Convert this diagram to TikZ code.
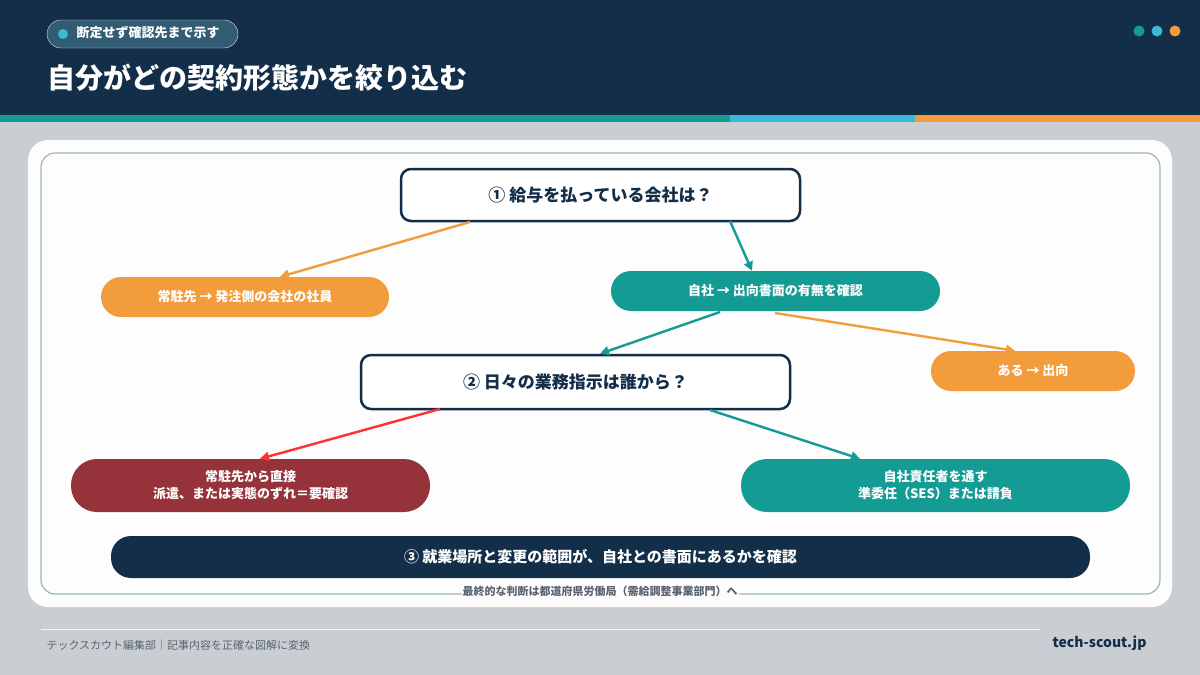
\documentclass[tikz,border=0pt]{standalone}
\usepackage{fontspec}
\setmainfont{Noto Sans CJK JP}
\usetikzlibrary{arrows.meta}
\definecolor{navy}{HTML}{132E48}
\definecolor{teal}{HTML}{139B94}
\definecolor{org}{HTML}{F39C3C}
\definecolor{red2}{HTML}{963239}
\definecolor{cyan2}{HTML}{3BB8D3}
\definecolor{bg}{HTML}{C9CED3}
\definecolor{gtxt}{HTML}{5A6470}
\tikzset{
 pill/.style={rounded corners=20pt,text=white,font=\bfseries\fontsize{13}{17}\selectfont,align=center,inner sep=0pt},
 qbox/.style={draw=navy,line width=2.5pt,fill=white,rounded corners=10pt,font=\bfseries\fontsize{17}{20}\selectfont,text=navy,inner sep=0pt},
 conn/.style={line width=2.4pt,-{Triangle[length=9pt,width=9pt]}},
}
\begin{document}
\begin{tikzpicture}[x=1pt,y=-1pt]
\useasboundingbox (0,0) rectangle (1200,675);
\fill[bg] (0,0) rectangle (1200,675);
\fill[navy] (0,0) rectangle (1200,115);
\fill[teal] (0,115) rectangle (730,122);
\fill[cyan2] (730,115) rectangle (915,122);
\fill[org] (915,115) rectangle (1200,122);
\node[draw=white!80!gray,fill=navy!80!cyan2!90!white,rounded corners=14pt,minimum width=191pt,minimum height=28pt] (badge) at (142.5,34) {};
\fill[cyan2] (63,34) circle (5);
\node[anchor=west,text=white,font=\bfseries\fontsize{13}{15}\selectfont] (badget) at (73,33) {断定せず確認先まで示す};
\node[anchor=west,text=white,font=\bfseries\fontsize{28}{32}\selectfont] (title) at (44,78) {自分がどの契約形態かを絞り込む};
\fill[teal] (1139,31) circle (5.5);
\fill[cyan2] (1157,31) circle (5.5);
\fill[org] (1175,31) circle (5.5);
% card
\fill[white!96!bg] (28,140) [rounded corners=20pt] rectangle (1172,607);
\draw[color=teal!40!gray!60,line width=1.2pt,rounded corners=14pt] (41,153) rectangle (1160,594);
% nodes
\node[qbox,minimum width=399pt,minimum height=52pt] (q1) at (600.5,195) {① 給与を払っている会社は？};
\node[pill,fill=org,minimum width=288pt,minimum height=40pt] (o1) at (245,297) {常駐先 → 発注側の会社の社員};
\node[pill,fill=teal,minimum width=329pt,minimum height=40pt] (t1) at (775.5,291) {自社 → 出向書面の有無を確認};
\node[qbox,minimum width=429pt,minimum height=54pt] (q2) at (575.5,382) {② 日々の業務指示は誰から？};
\node[pill,fill=org,minimum width=204pt,minimum height=40pt] (o2) at (1033,371) {ある → 出向};
\node[pill,fill=red2,minimum width=359pt,minimum height=53pt,rounded corners=26pt] (r1) at (250.5,485.5) {常駐先から直接\\派遣、または実態のずれ＝要確認};
\node[pill,fill=teal,minimum width=389pt,minimum height=53pt,rounded corners=26pt] (t2) at (935.5,485.5) {自社責任者を通す\\準委任（SES）または請負};
\node[pill,fill=navy,minimum width=979pt,minimum height=42pt,font=\bfseries\fontsize{15}{18}\selectfont] (bar) at (600.5,557) {③ 就業場所と変更の範囲が、自社との書面にあるかを確認};
\node[text=gtxt,font=\bfseries\fontsize{11}{13}\selectfont,fill=white!96!bg,inner sep=1pt] (note) at (600,591) {最終的な判断は都道府県労働局（需給調整事業部門）へ};
% connectors
\coordinate (a1) at (470,222); \coordinate (a2) at (730,221);
\coordinate (b1) at (720,312); \coordinate (b2) at (775,313);
\coordinate (c1) at (440,409); \coordinate (c2) at (710,410);
\draw[conn,org] (a1) -- (o1.north -| 280,0) ;
\draw[conn,teal] (a2) -- (t1.north -| 752,0);
\draw[conn,teal] (b1) -- (q2.north -| 600,0);
\draw[conn,org] (b2) -- (o2.north -| 1015,0);
\draw[conn,color=red!75!pink] (c1) -- (r1.north -| 260,0);
\draw[conn,teal] (c2) -- (t2.north -| 860,0);
% footer
\draw[color=white!80!bg,line width=0.8pt] (41,629) -- (1040,629);
\node[anchor=west,text=gtxt,font=\fontsize{11}{13}\selectfont] (foot) at (43,645) {テックスカウト編集部｜記事内容を正確な図解に変換};
\node[anchor=east,text=navy,font=\bfseries\fontsize{14}{16}\selectfont] (site) at (1150,643) {tech-scout.jp};
\end{tikzpicture}
\end{document}
